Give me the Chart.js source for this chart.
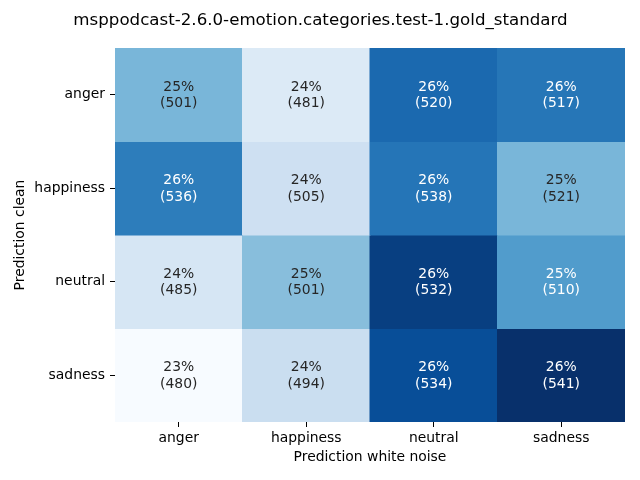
<!DOCTYPE html>
<html>
<head>
<meta charset="utf-8">
<script src="https://cdn.jsdelivr.net/npm/chart.js@4"></script>
<style>
html,body{margin:0;padding:0;background:#fff;}
canvas{display:block;}
</style>
</head>
<body>
<canvas id="c" width="640" height="480" style="width:640px;height:480px"></canvas>
<script>
const chartTitle = "msppodcast-2.6.0-emotion.categories.test-1.gold_standard";
const xLabels = ["anger", "happiness", "neutral", "sadness"];
const yLabels = ["anger", "happiness", "neutral", "sadness"];
const xTitle = "Prediction white noise";
const yTitle = "Prediction clean";
// counts per row (Prediction clean) across columns (Prediction white noise)
const countsAnger = [501, 481, 520, 517];
const countsHappiness = [536, 505, 538, 521];
const countsNeutral = [485, 501, 532, 510];
const countsSadness = [480, 494, 534, 541];
const pctAnger = ["25%", "24%", "26%", "26%"];
const pctHappiness = ["26%", "24%", "26%", "25%"];
const pctNeutral = ["24%", "25%", "26%", "25%"];
const pctSadness = ["23%", "24%", "26%", "26%"];

const counts = [countsAnger, countsHappiness, countsNeutral, countsSadness];
const pcts = [pctAnger, pctHappiness, pctNeutral, pctSadness];

const FONT = "'DejaVu Sans', sans-serif";
const BLUES = ["#f7fbff","#deebf7","#c6dbef","#9ecae1","#6baed6","#4292c6","#2171b5","#08519c","#08306b"];
function hex2rgb(h){return [parseInt(h.slice(1,3),16),parseInt(h.slice(3,5),16),parseInt(h.slice(5,7),16)];}
function cmap(t){
  t = Math.max(0, Math.min(1, t));
  const p = t * (BLUES.length - 1);
  const i = Math.min(Math.floor(p), BLUES.length - 2);
  const f = p - i;
  const a = hex2rgb(BLUES[i]), b = hex2rgb(BLUES[i+1]);
  return a.map((v,k)=>v + (b[k]-v)*f);
}
function lum(rgb){
  const c = rgb.map(v=>{v/=255; return v<=0.03928 ? v/12.92 : Math.pow((v+0.055)/1.055,2.4);});
  return 0.2126*c[0]+0.7152*c[1]+0.0722*c[2];
}
const frac = counts.map(row=>{const s=row.reduce((a,b)=>a+b,0); return row.map(v=>v/s);});
const all = frac.flat();
const vmin = Math.min(...all), vmax = Math.max(...all);
const cellRGB = frac.map(row=>row.map(v=>cmap((v-vmin)/(vmax-vmin))));
const rgbStr = c=>`rgb(${Math.round(c[0])},${Math.round(c[1])},${Math.round(c[2])})`;

const datasets = yLabels.map((lab, r)=>({
  label: lab,
  data: xLabels.map(()=>[r, r+1]),
  backgroundColor: cellRGB[r].map(rgbStr),
  borderWidth: 0,
  grouped: false,
  barPercentage: 1,
  categoryPercentage: 1,
  inflateAmount: 0.5
}));

const annotPlugin = {
  id: 'annot',
  afterDatasetsDraw(chart){
    const ctx = chart.ctx;
    const xs = chart.scales.x, ys = chart.scales.y;
    ctx.save();
    ctx.font = `13.9px ${FONT}`;
    ctx.textAlign = 'center';
    ctx.textBaseline = 'middle';
    for (let r=0;r<yLabels.length;r++){
      for (let c=0;c<xLabels.length;c++){
        const cx = xs.getPixelForValue(c);
        const cy = ys.getPixelForValue(r+0.5) + 0.5;
        ctx.fillStyle = lum(cellRGB[r][c]) > 0.408 ? '#262626' : '#ffffff';
        ctx.fillText(pcts[r][c], cx, cy-8.3);
        ctx.fillText('(' + counts[r][c] + ')', cx, cy+8.3);
      }
    }
    ctx.restore();
  },
  afterDraw(chart){
    const ctx = chart.ctx;
    ctx.save();
    ctx.font = `16.67px ${FONT}`;
    ctx.fillStyle = '#000';
    ctx.textAlign = 'center';
    ctx.textBaseline = 'alphabetic';
    ctx.fillText(chartTitle, 320.5, 25);
    ctx.restore();
  }
};

new Chart(document.getElementById('c'), {
  type: 'bar',
  data: { labels: xLabels, datasets },
  options: {
    responsive: false,
    animation: false,
    devicePixelRatio: 1,
    layout: { padding: { top: 48, right: 15, left: 0, bottom: 0 } },
    plugins: { legend: { display: false }, tooltip: { enabled: false }, title: { display: false } },
    scales: {
      x: {
        type: 'category',
        offset: true,
        grid: { display: true, drawOnChartArea: false, drawTicks: true, tickLength: 5, offset: false, color: '#000', lineWidth: 1 },
        border: { display: false },
        ticks: { color: '#000', font: { family: FONT, size: 13.9 }, padding: 3, maxRotation: 0 },
        title: { display: true, text: xTitle, color: '#000', font: { family: FONT, size: 13.9 }, padding: { top: 0, bottom: 14.5 } },
        afterFit(s){ s.height = 58; }
      },
      y: {
        type: 'linear',
        min: 0, max: 4,
        reverse: true,
        afterBuildTicks(s){ s.ticks = [0.5,1.5,2.5,3.5].map(v=>({value:v})); },
        grid: { display: true, drawOnChartArea: false, drawTicks: true, tickLength: 5, color: '#000', lineWidth: 1 },
        border: { display: false },
        ticks: { color: '#000', font: { family: FONT, size: 13.9 }, padding: 5, callback: (v, i)=>yLabels[i] },
        title: { display: true, text: yTitle, color: '#000', font: { family: FONT, size: 13.9 }, padding: { top: 12.5, bottom: 0 } },
        afterFit(s){ s.width = 115; }
      }
    }
  },
  plugins: [annotPlugin]
});
</script>
</body>
</html>
